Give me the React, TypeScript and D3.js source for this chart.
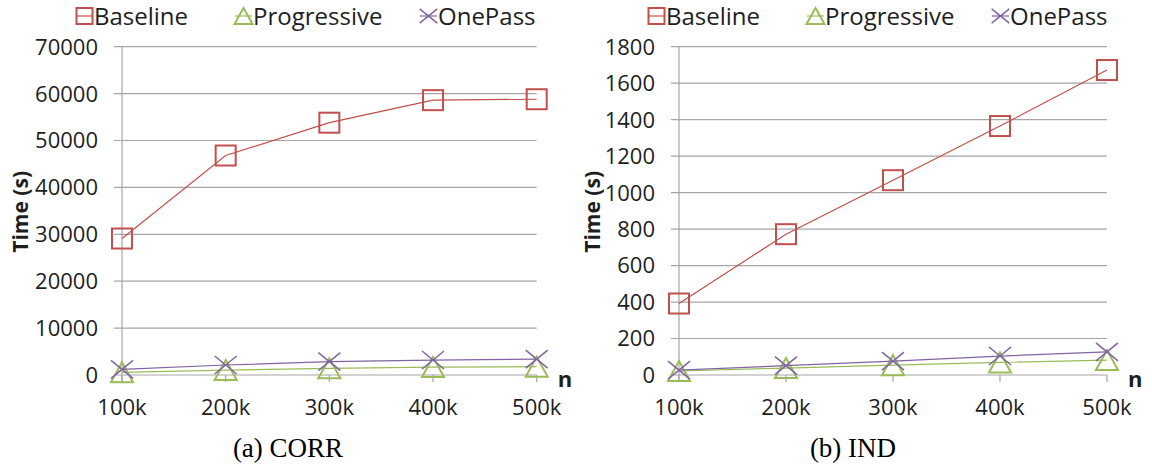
import React from 'react';
import * as d3 from 'd3';

const sizes = ['100k', '200k', '300k', '400k', '500k'];
const seriesNames = ['Baseline', 'Progressive', 'OnePass'];

// CORR panel, seconds
const corrBaseline = [29100, 46800, 53800, 58600, 58800];
const corrProgressive = [570, 1060, 1420, 1700, 1770];
const corrOnePass = [1200, 2130, 2840, 3190, 3400];
const corrTicks = [0, 10000, 20000, 30000, 40000, 50000, 60000, 70000];

// IND panel, seconds
const indBaseline = [392, 772, 1068, 1365, 1672];
const indProgressive = [22, 38, 54, 69, 82];
const indOnePass = [27, 51, 76, 104, 127];
const indTicks = [0, 200, 400, 600, 800, 1000, 1200, 1400, 1600, 1800];

const COLORS = ['#C0504D', '#9BBB59', '#8064A2'];
const GRID = '#A6A6A6';
const TEXT = '#1e1e1e';
const SANS = '"Open Sans", "Noto Sans", sans-serif';

const panels = [
  {
    caption: '(a) CORR',
    series: [corrBaseline, corrProgressive, corrOnePass],
    ticks: corrTicks,
    x0: 122, x1: 536.7, titleX: 27.5, captionX: 288,
    legendX: [76, 235, 420],
  },
  {
    caption: '(b) IND',
    series: [indBaseline, indProgressive, indOnePass],
    ticks: indTicks,
    x0: 679, x1: 1107, titleX: 600, captionX: 853,
    legendX: [648, 807, 992],
  },
];

const Y_TOP = 46.7;
const Y_BOT = 375;

function Marker({ kind, x, y, color, size }) {
  const h = size / 2;
  if (kind === 0) {
    return <rect x={x - h} y={y - h} width={size} height={size} fill="none" stroke={color} strokeWidth={2} />;
  }
  if (kind === 1) {
    const pts = [[x, y - h], [x + h + 1, y + h], [x - h - 1, y + h]].map(p => p.join(',')).join(' ');
    return <polygon points={pts} fill="none" stroke={color} strokeWidth={2} />;
  }
  // the X marker is a little wider than it is tall
  const w = h * 1.1;
  const v = h * 0.9;
  return (
    <g stroke={color} strokeWidth={1.5}>
      <line x1={x - w} y1={y - v} x2={x + w} y2={y + v} />
      <line x1={x - w} y1={y + v} x2={x + w} y2={y - v} />
    </g>
  );
}

function Panel({ p }) {
  const x = d3.scalePoint().domain(sizes).range([p.x0, p.x1]);
  const y = d3.scaleLinear().domain([0, d3.max(p.ticks)]).range([Y_BOT, Y_TOP]);
  const line = d3.line<number>().x((_, i) => x(sizes[i])).y(d => y(d));

  return (
    <g>
      {/* legend */}
      {seriesNames.map((name, i) => {
        const lx = p.legendX[i];
        return (
          <g key={name}>
            <line x1={lx} x2={lx + 17} y1={16} y2={16} stroke={COLORS[i]} strokeWidth={1.2} />
            <Marker kind={i} x={lx + 8.5} y={16} color={COLORS[i]} size={16} />
            <text x={lx + 18} y={25} fontFamily={SANS} fontSize={24} fill={TEXT}>{name}</text>
          </g>
        );
      })}

      {/* gridlines + y labels */}
      {p.ticks.map(t => (
        <g key={t}>
          <line x1={p.x0 - 8} x2={p.x1} y1={y(t)} y2={y(t)} stroke={GRID} strokeWidth={1.2} />
          <text x={p.x0 - 24} y={y(t)} dy="0.36em" textAnchor="end" fontFamily={SANS} fontSize={22} fill={TEXT}>{t}</text>
        </g>
      ))}
      <line x1={p.x0} x2={p.x0} y1={Y_TOP} y2={Y_BOT + 7} stroke={GRID} strokeWidth={1.2} />

      {/* x ticks + labels */}
      {sizes.map(s => (
        <g key={s}>
          <line x1={x(s)} x2={x(s)} y1={Y_BOT} y2={Y_BOT + 7} stroke={GRID} strokeWidth={1.2} />
          <text x={x(s)} y={415} textAnchor="middle" fontFamily={SANS} fontSize={22} fill={TEXT}>{s}</text>
        </g>
      ))}
      <text x={p.x1 + 21} y={387} fontFamily={SANS} fontWeight="bold" fontSize={22} fill={TEXT}>n</text>

      <text transform={`translate(${p.titleX},${(Y_TOP + Y_BOT) / 2 + 1}) rotate(-90)`} textAnchor="middle"
        fontFamily={SANS} fontWeight="bold" fontSize={21} fill={TEXT}>Time (s)</text>

      {/* series */}
      {p.series.map((vals, i) => (
        <g key={i}>
          <path d={line(vals) || ''} fill="none" stroke={COLORS[i]} strokeWidth={1.2} />
          {vals.map((v, j) => (
            <Marker key={j} kind={i} x={x(sizes[j])} y={y(v)} color={COLORS[i]} size={20} />
          ))}
        </g>
      ))}

      <text x={p.captionX} y={457} textAnchor="middle" fontFamily='"Liberation Serif", serif' fontSize={27} fill="#000">{p.caption}</text>
    </g>
  );
}

export default function App() {
  return (
    <svg width={1152} height={467} style={{ position: 'absolute', left: 0, top: 0, background: '#fff' }}>
      {panels.map(p => <Panel key={p.caption} p={p} />)}
    </svg>
  );
}
